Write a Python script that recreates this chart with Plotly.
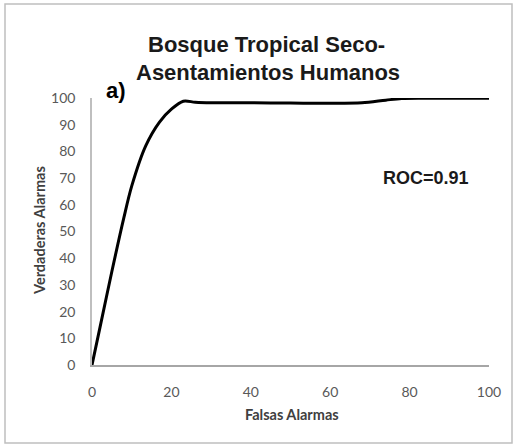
import plotly.graph_objects as go

falsas_alarmas = [0, 2, 5, 8, 10, 13.5, 17, 20, 23, 26, 30, 40, 50, 60, 68, 74, 78, 85, 100]
verdaderas_alarmas = [0, 14, 35, 55, 67, 82, 91, 95.8, 98.8, 98.4, 98.2, 98.2, 98.1, 98.0, 98.2, 99.2, 99.8, 99.9, 99.9]
x_ticks = [0, 20, 40, 60, 80, 100]
y_ticks = [0, 10, 20, 30, 40, 50, 60, 70, 80, 90, 100]

W, H = 516, 445
# plot area in page pixels: x 92..489, y 98..365
L, R, T, B = 92, 516 - 489, 98, 445 - 365
pw, ph = W - L - R, H - T - B

def px(xp):
    return (xp - L) / pw

def py(yp):
    return (H - B - yp) / ph

fig = go.Figure()
fig.add_trace(go.Scatter(
    x=falsas_alarmas, y=verdaderas_alarmas, mode="lines",
    line=dict(color="black", width=3, shape="spline", smoothing=0.9),
    showlegend=False, hoverinfo="skip"))

tickfont = dict(family="Lato, Liberation Sans, sans-serif", size=14, color="#595959")
fig.update_xaxes(range=[0, 100], tickvals=x_ticks, showgrid=False, zeroline=False,
                 showline=True, linecolor="#a6a6a6", linewidth=1.5, ticks="",
                 tickfont=tickfont, ticklabelstandoff=13, fixedrange=True)
fig.update_yaxes(range=[0, 100], tickvals=y_ticks, showgrid=False, zeroline=False,
                 showline=True, linecolor="#bfbfbf", linewidth=1.5, ticks="",
                 tickfont=tickfont, ticklabelstandoff=12, fixedrange=True)

title_font = dict(family="Liberation Sans, Arial, sans-serif", size=22, color="#1a1a1a")
axis_font = dict(family="Lato, Liberation Sans, sans-serif", size=14.5, color="#404040")
annos = [
    dict(text="<b>Bosque Tropical Seco-</b>", x=px(266), y=py(45), font=title_font),
    dict(text="<b>Asentamientos Humanos</b>", x=px(268), y=py(72), font=title_font),
    dict(text="<b>a)</b>", x=px(116), y=py(91), font=dict(family="Liberation Sans, Arial, sans-serif", size=22, color="black")),
    dict(text="<b>ROC=0.91</b>", x=px(426), y=py(178), font=dict(family="Liberation Sans, Arial, sans-serif", size=18, color="#1a1a1a")),
    dict(text="<b>Falsas Alarmas</b>", x=px(292), y=py(414), font=axis_font),
    dict(text="<b>Verdaderas Alarmas</b>", x=px(39), y=py(231), textangle=-90, font=axis_font),
]
for a in annos:
    fig.add_annotation(xref="paper", yref="paper", showarrow=False, xanchor="center", yanchor="middle", **a)

fig.add_shape(type="rect", xref="paper", yref="paper",
              x0=px(5), x1=px(512), y0=py(443), y1=py(4),
              line=dict(color="#bfbfbf", width=1.5), fillcolor="rgba(0,0,0,0)", layer="below")

fig.update_layout(width=W, height=H, margin=dict(l=L, r=R, t=T, b=B, pad=0),
                  paper_bgcolor="white", plot_bgcolor="white")
fig.write_html("out.html", config={"displayModeBar": False},
               post_script="document.body.style.margin='0';")
